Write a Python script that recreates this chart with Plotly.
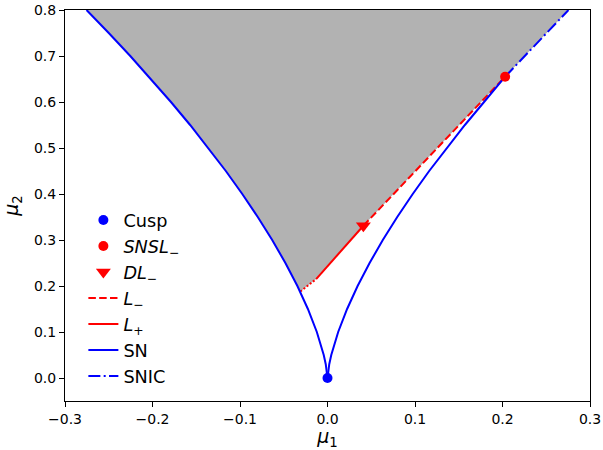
import plotly.graph_objects as go

# Saddle-node curve: mu2 levels and |mu1| of the two symmetric branches
sn_mu2 = [0.0, 0.01, 0.02, 0.03, 0.05, 0.075, 0.1, 0.15, 0.2, 0.25, 0.3,
          0.35, 0.4, 0.45, 0.5, 0.55, 0.6, 0.65, 0.7, 0.75, 0.8]
sn_abs_mu1 = [0.0, 0.0004, 0.0011, 0.0020, 0.0043, 0.0079, 0.0122, 0.0224,
              0.0344, 0.0481, 0.0632, 0.0797, 0.0974, 0.1162, 0.1361, 0.1570,
              0.1789, 0.2017, 0.2254, 0.2500, 0.2754]

# Special points
cusp_pt = (0.0, 0.0)
snsl_pt = (0.203, 0.655)
dl_pt = (0.041, 0.331)

# Homoclinic branch L: lower dotted stub, solid L+ piece, dashed L- piece
l_stub_mu1 = [-0.031, -0.013]
l_stub_mu2 = [0.188, 0.215]
l_plus_mu1 = [-0.013, 0.041]
l_plus_mu2 = [0.215, 0.331]
l_minus_mu1 = [0.041, 0.12, 0.203]
l_minus_mu2 = [0.331, 0.49, 0.655]

x_ticks = [-0.3, -0.2, -0.1, 0.0, 0.1, 0.2, 0.3]
y_ticks = [0.0, 0.1, 0.2, 0.3, 0.4, 0.5, 0.6, 0.7, 0.8]

BLUE = "#0000ff"
RED = "#ff0000"
FONT = "DejaVu Sans"

# Left SN branch (full), right SN branch up to SNSL, SNIC beyond
left_mu1 = [-v for v in sn_abs_mu1]
right_mu2 = [m for m in sn_mu2 if m < snsl_pt[1]] + [snsl_pt[1]]
right_mu1 = [v for m, v in zip(sn_mu2, sn_abs_mu1) if m < snsl_pt[1]] + [snsl_pt[0]]
snic_mu2 = [snsl_pt[1]] + [m for m in sn_mu2 if m > snsl_pt[1]]
snic_mu1 = [snsl_pt[0]] + [v for m, v in zip(sn_mu2, sn_abs_mu1) if m > snsl_pt[1]]

# Shaded region: vertex -> left SN up to top -> SNIC down -> L back to vertex
fx = [l_stub_mu1[0]] + [x for x, m in zip(left_mu1, sn_mu2) if m > l_stub_mu2[0]]
fy = [l_stub_mu2[0]] + [m for m in sn_mu2 if m > l_stub_mu2[0]]
fx += snic_mu1[::-1] + l_minus_mu1[::-1][1:] + l_plus_mu1[::-1][1:] + l_stub_mu1[::-1][1:]
fy += snic_mu2[::-1] + l_minus_mu2[::-1][1:] + l_plus_mu2[::-1][1:] + l_stub_mu2[::-1][1:]

fig = go.Figure()
fig.add_trace(go.Scatter(x=fx, y=fy, fill="toself", fillcolor="#b2b2b2",
                         line=dict(width=0), mode="lines", showlegend=False,
                         hoverinfo="skip"))

fig.add_trace(go.Scatter(x=l_stub_mu1, y=l_stub_mu2, mode="lines",
                         line=dict(color=RED, width=2, dash="2px,2px"),
                         legendgroup="lm", showlegend=False))
fig.add_trace(go.Scatter(x=l_minus_mu1, y=l_minus_mu2, mode="lines",
                         line=dict(color=RED, width=2, dash="7.5px,3.3px"),
                         name="<i>L</i><sub>−</sub>", legendgroup="lm", legendrank=4))
fig.add_trace(go.Scatter(x=l_plus_mu1, y=l_plus_mu2, mode="lines",
                         line=dict(color=RED, width=2),
                         name="<i>L</i><sub>+</sub>", legendrank=5))
fig.add_trace(go.Scatter(x=left_mu1, y=sn_mu2, mode="lines",
                         line=dict(color=BLUE, width=2),
                         name="SN", legendgroup="sn", legendrank=6))
fig.add_trace(go.Scatter(x=right_mu1, y=right_mu2, mode="lines",
                         line=dict(color=BLUE, width=2),
                         legendgroup="sn", showlegend=False))
fig.add_trace(go.Scatter(x=snic_mu1, y=snic_mu2, mode="lines",
                         line=dict(color=BLUE, width=2, dash="12px,3.3px,2px,3.3px"),
                         name="SNIC", legendrank=7))

fig.add_trace(go.Scatter(x=[cusp_pt[0]], y=[cusp_pt[1]], mode="markers",
                         marker=dict(color=BLUE, size=10, symbol="circle"),
                         name="Cusp", legendrank=1))
fig.add_trace(go.Scatter(x=[snsl_pt[0]], y=[snsl_pt[1]], mode="markers",
                         marker=dict(color=RED, size=10, symbol="circle"),
                         name="<i>SNSL</i><sub>−</sub>", legendrank=2))
fig.add_trace(go.Scatter(x=[dl_pt[0]], y=[dl_pt[1]], mode="markers",
                         marker=dict(color=RED, size=13, symbol="triangle-down"),
                         name="<i>DL</i><sub>−</sub>", legendrank=3))

axis_common = dict(showgrid=False, zeroline=False, showline=True, linecolor="black",
                   linewidth=1, mirror=True, ticks="outside", ticklen=5,
                   tickwidth=1, tickcolor="black", automargin=False,
                   tickfont=dict(family=FONT, size=14, color="black"))

fig.update_xaxes(range=[-0.3, 0.3], tickvals=x_ticks, tickformat=".1f",
                 title=dict(text="<i>μ</i><sub>1</sub>", standoff=6,
                            font=dict(family=FONT, size=19, color="black")),
                 **axis_common)
fig.update_yaxes(range=[-0.05, 0.8], tickvals=y_ticks, tickformat=".1f",
                 title=dict(text="<i>μ</i><sub>2</sub>", standoff=10,
                            font=dict(family=FONT, size=19, color="black")),
                 **axis_common)

fig.update_layout(
    width=603, height=450,
    margin=dict(l=65, r=13, t=10, b=49),
    plot_bgcolor="white", paper_bgcolor="white",
    font=dict(family=FONT, color="black"),
    legend=dict(x=0.035, y=0.509, xanchor="left", yanchor="top",
                bgcolor="rgba(0,0,0,0)", borderwidth=0,
                font=dict(family=FONT, size=17.7, color="black"),
                traceorder="normal", itemsizing="trace", tracegroupgap=0),
)

fig.write_html("out.html")
